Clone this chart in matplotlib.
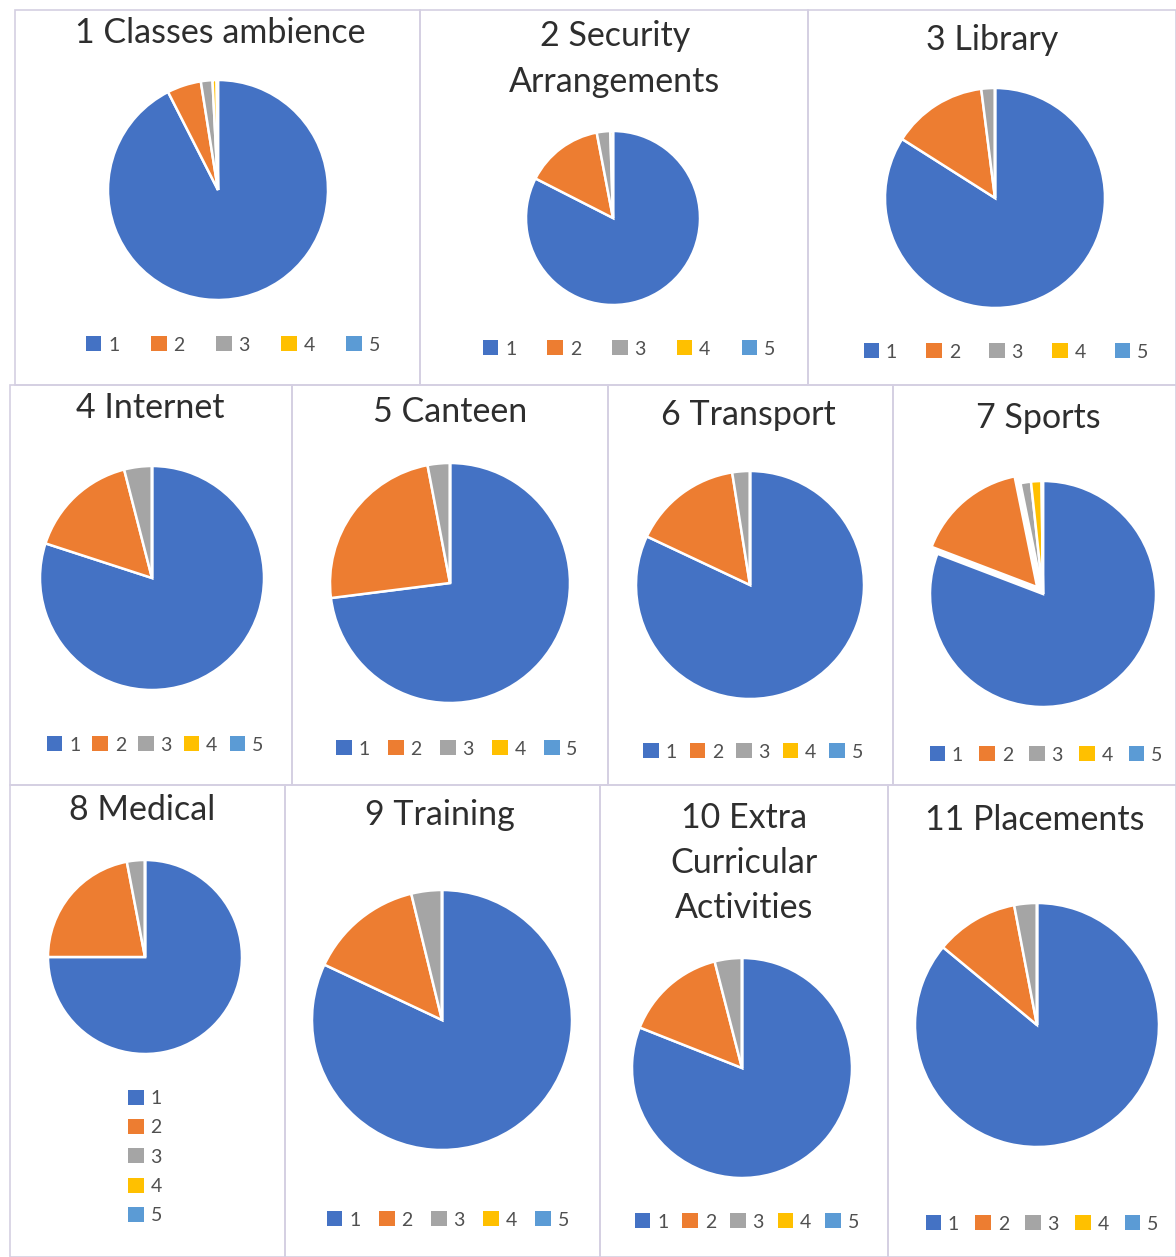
import matplotlib
matplotlib.use("Agg")
import matplotlib.pyplot as plt
from matplotlib.patches import Rectangle, Patch

plt.rcParams['font.family'] = ['Lato', 'DejaVu Sans']

W, H = 1176, 1257

labels = ['1', '2', '3', '4', '5']
colors = ['#4472C4', '#ED7D31', '#A5A5A5', '#FFC000', '#5B9BD5']

titles = ['1 Classes ambience', '2 Security\nArrangements', '3 Library',
          '4 Internet', '5 Canteen', '6 Transport', '7 Sports',
          '8 Medical', '9 Training', '10 Extra\nCurricular\nActivities',
          '11 Placements']

classes_ambience = [92.5, 5.0, 1.7, 0.6, 0.2]
security = [82.5, 14.5, 2.5, 0.5, 0.0]
library = [84.0, 14.0, 2.0, 0.0, 0.0]
internet = [80.0, 16.0, 4.0, 0.0, 0.0]
canteen = [73.0, 24.0, 3.0, 0.0, 0.0]
transport = [82.0, 15.5, 2.5, 0.0, 0.0]
sports = [80.8, 16.0, 1.5, 1.5, 0.2]
medical = [75.0, 22.0, 3.0, 0.0, 0.0]
training = [82.0, 14.2, 3.8, 0.0, 0.0]
extra_curricular = [81.0, 15.0, 4.0, 0.0, 0.0]
placements = [86.0, 11.0, 3.0, 0.0, 0.0]

series = [classes_ambience, security, library, internet, canteen, transport,
          sports, medical, training, extra_curricular, placements]

# layout (pixels): panel box, pie centre, radius, title pos, legend pos, ncol, column spacing
panels = [
    dict(box=(15, 10, 420, 385), c=(218, 190), r=110, t=(220, 33), lg=(233, 345), nc=5, cs=1.62),
    dict(box=(420, 10, 808, 385), c=(613, 218), r=87, t=(615, 59), lg=(629, 349), nc=5, cs=1.6),
    dict(box=(808, 10, 1176, 385), c=(995, 198), r=110, t=(992, 40), lg=(1006, 352), nc=5, cs=1.5),
    dict(box=(10, 385, 292, 785), c=(152, 578), r=112, t=(150, 408), lg=(155, 745), nc=5, cs=0.62),
    dict(box=(292, 385, 608, 785), c=(450, 583), r=120, t=(450, 412), lg=(457, 749), nc=5, cs=0.94),
    dict(box=(608, 385, 893, 785), c=(750, 585), r=114, t=(748, 415), lg=(753, 752), nc=5, cs=0.66),
    dict(box=(893, 385, 1176, 785), c=(1043, 594), r=113, t=(1038, 418), lg=(1046, 755), nc=5, cs=0.83),
    dict(box=(10, 785, 285, 1257), c=(145, 957), r=97, t=(142, 810), lg=(145, 1157), nc=1, cs=1.0),
    dict(box=(285, 785, 600, 1257), c=(442, 1020), r=130, t=(440, 815), lg=(448, 1220), nc=5, cs=0.95),
    dict(box=(600, 785, 888, 1257), c=(742, 1068), r=110, t=(744, 863), lg=(747, 1222), nc=5, cs=0.72),
    dict(box=(888, 785, 1176, 1257), c=(1037, 1025), r=122, t=(1035, 820), lg=(1042, 1224), nc=5, cs=0.83),
]

fig = plt.figure(figsize=(W / 100, H / 100), dpi=100)
fig.patch.set_facecolor('white')

def fx(x):
    return x / W

def fy(y):
    return 1 - y / H

handles = [Patch(facecolor=c, edgecolor='none') for c in colors]

for i, (p, vals, title) in enumerate(zip(panels, series, titles)):
    x0, y0, x1, y1 = p['box']
    fig.add_artist(Rectangle((fx(x0), fy(y1)), fx(x1) - fx(x0), fy(y0) - fy(y1),
                             transform=fig.transFigure, fill=False,
                             edgecolor='#d4cfe2', linewidth=1.2))
    cx, cy = p['c']
    R = p['r'] * 1.2
    ax = fig.add_axes([fx(cx - R), fy(cy + R), 2 * R / W, 2 * R / H])
    explode = [0.08 if (i == 6 and k == 1) else 0.0 for k in range(5)]
    ax.pie(vals, colors=colors, startangle=90, counterclock=False,
           explode=explode, radius=1.0,
           wedgeprops=dict(edgecolor='white', linewidth=1.8))
    ax.set_xlim(-1.2, 1.2)
    ax.set_ylim(-1.2, 1.2)
    ax.set_aspect('equal')
    ax.axis('off')
    tx, ty = p['t']
    fig.text(fx(tx), fy(ty), title, ha='center', va='center', fontsize=24.5,
             color='#2e2e2e', linespacing=1.5)
    lx, ly = p['lg']
    fig.legend(handles, labels, loc='center', bbox_to_anchor=(fx(lx), fy(ly)),
               ncol=p['nc'], frameon=False, fontsize=14, labelcolor='#505050',
               handlelength=0.8, handleheight=0.8, handletextpad=0.35,
               columnspacing=p['cs'], labelspacing=0.62)

fig.savefig('out.png', dpi=100, facecolor='white')
